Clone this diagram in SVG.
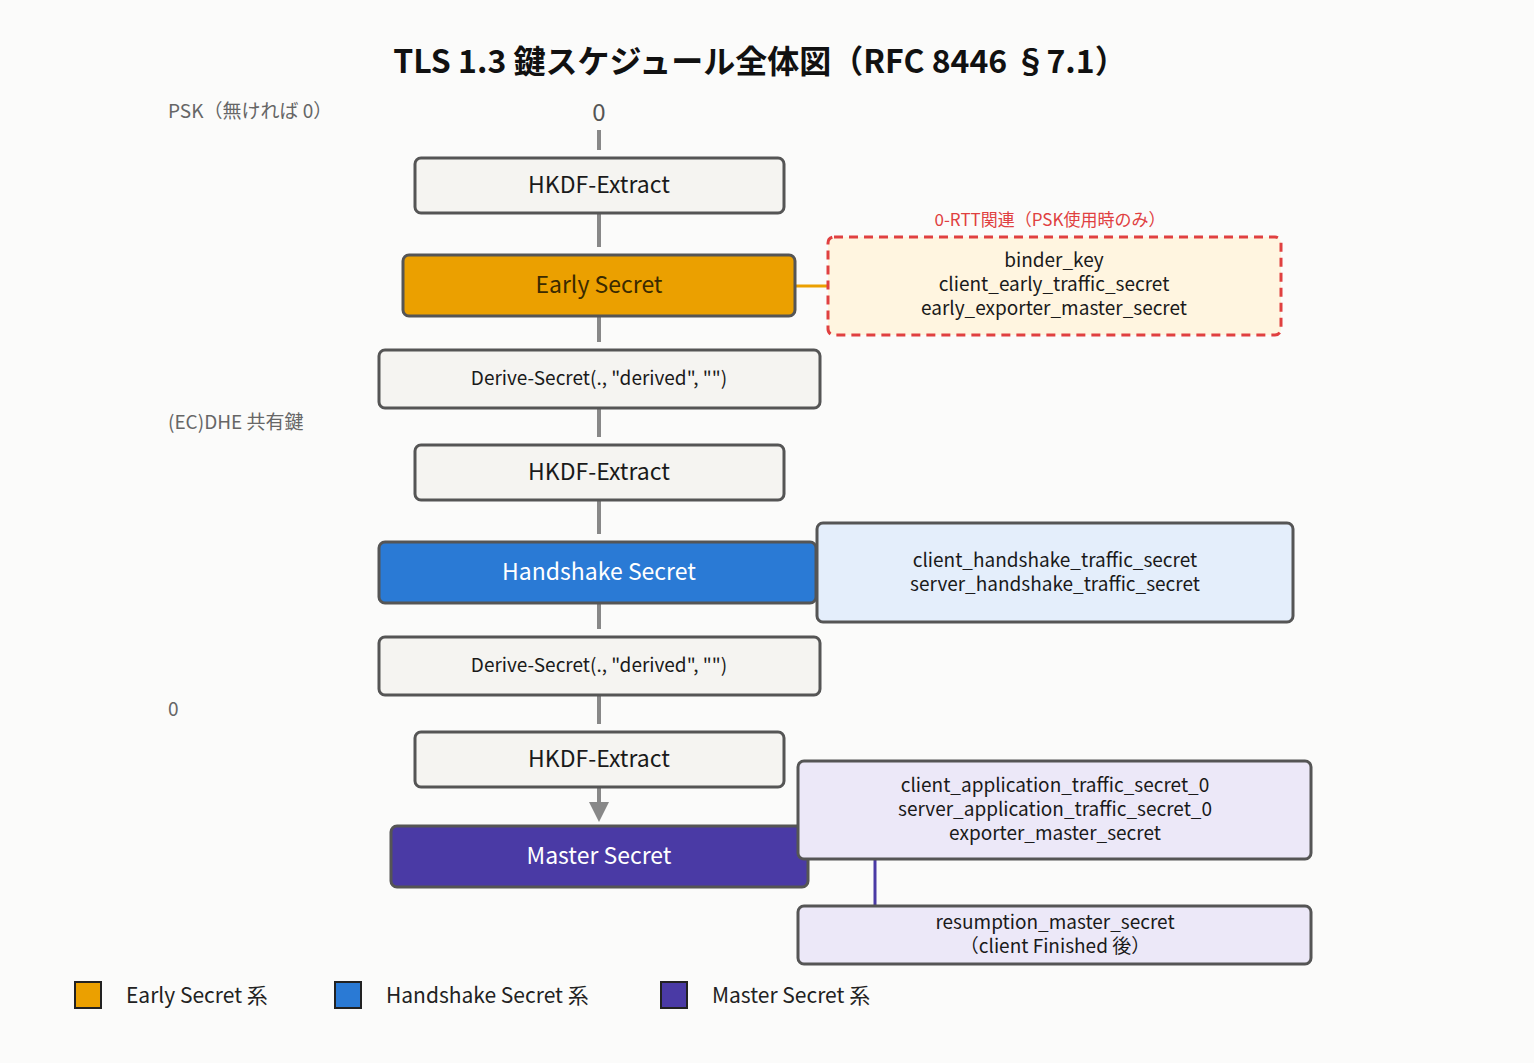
<svg xmlns="http://www.w3.org/2000/svg" width="1534" height="1063" viewBox="0 0 1534 1063">
<style>
text{font-family:"Noto Sans CJK JP","Noto Sans",sans-serif;text-anchor:middle}
.n{stroke:#555;stroke-width:3}
.g{fill:#F5F4F1}
.t{font-size:23px;fill:#1a1a1a}
.s{font-size:19px;fill:#1a1a1a}
.side{font-size:19px;fill:#666;text-anchor:start}
.c{stroke:#888;stroke-width:4;fill:none}
.lg{font-size:21px;fill:#222;text-anchor:start}
</style>
<defs><marker id="a" markerWidth="5" markerHeight="5" refX="4" refY="2.5" orient="auto" markerUnits="strokeWidth"><path d="M0,0L5,2.5L0,5z" fill="#888"/></marker></defs>
<rect width="1534" height="1063" fill="#FBFBFA"/>
<text x="760" y="73" style="font-size:32px;font-weight:bold;fill:#111">TLS 1.3 鍵スケジュール全体図（RFC 8446 §7.1）</text>
<text x="168" y="118" class="side">PSK（無ければ 0）</text>
<text x="599" y="121" style="font-size:24px;fill:#555">0</text>
<text x="168" y="429" class="side">(EC)DHE 共有鍵</text>
<text x="168" y="716" class="side">0</text>
<g id="connectors">
<path class="c" d="M599 130V150M599 213V247M599 316V342M599 408V437M599 500V534M599 603V629M599 695V724M599 787V818" marker-end="url(#a)"/>
<path d="M795 286H828" stroke="#EBA000" stroke-width="3"/>
<path d="M875 859V906" stroke="#4A3AA5" stroke-width="3"/>
</g>
<g id="hkdf1"><rect x="415" y="158" width="369" height="55" rx="6" class="n g"/><text x="599" y="193" class="t">HKDF-Extract</text></g>
<g id="early"><rect x="403" y="255" width="392" height="61" rx="6" class="n" fill="#EBA000"/><text x="599" y="293" class="t" style="fill:#3a2a00">Early Secret</text></g>
<g id="derive1"><rect x="379" y="350" width="441" height="58" rx="6" class="n g"/><text x="599" y="385" class="s">Derive-Secret(., "derived", "")</text></g>
<g id="hkdf2"><rect x="415" y="445" width="369" height="55" rx="6" class="n g"/><text x="599" y="480" class="t">HKDF-Extract</text></g>
<g id="handshake"><rect x="379" y="542" width="437" height="61" rx="6" class="n" fill="#2A7AD5"/><text x="599" y="580" class="t" style="fill:#fff">Handshake Secret</text></g>
<g id="derive2"><rect x="379" y="637" width="441" height="58" rx="6" class="n g"/><text x="599" y="672" class="s">Derive-Secret(., "derived", "")</text></g>
<g id="hkdf3"><rect x="415" y="732" width="369" height="55" rx="6" class="n g"/><text x="599" y="767" class="t">HKDF-Extract</text></g>
<g id="master"><rect x="391" y="826" width="417" height="61" rx="6" class="n" fill="#4A3AA5"/><text x="599" y="864" class="t" style="fill:#fff">Master Secret</text></g>
<g id="early-derived">
<text x="1050" y="226" style="font-size:17px;fill:#E04040">0-RTT関連（PSK使用時のみ）</text>
<rect x="828" y="237" width="453" height="98" rx="6" fill="#FFF5E0" stroke="#E04040" stroke-width="3" stroke-dasharray="9,6"/>
<text x="1054" y="267" class="s">binder_key</text><text x="1054" y="291" class="s">client_early_traffic_secret</text><text x="1054" y="315" class="s">early_exporter_master_secret</text></g>
<g id="hs-derived"><rect x="817" y="523" width="476" height="99" rx="6" class="n" fill="#E4EEFB"/>
<text x="1055" y="567" class="s">client_handshake_traffic_secret</text><text x="1055" y="591" class="s">server_handshake_traffic_secret</text></g>
<g id="app-derived"><rect x="798" y="761" width="513" height="98" rx="6" class="n" fill="#ECE8F8"/>
<text x="1055" y="792" class="s">client_application_traffic_secret_0</text><text x="1055" y="816" class="s">server_application_traffic_secret_0</text><text x="1055" y="840" class="s">exporter_master_secret</text></g>
<g id="resumption"><rect x="798" y="906" width="513" height="58" rx="6" class="n" fill="#ECE8F8"/>
<text x="1055" y="929" class="s">resumption_master_secret</text><text x="1055" y="953" class="s">（client Finished 後）</text></g>
<g id="legend">
<rect x="75" y="982" width="26" height="26" fill="#EBA000" stroke="#222" stroke-width="2"/><text x="126" y="1003" class="lg">Early Secret 系</text>
<rect x="335" y="982" width="26" height="26" fill="#2A7AD5" stroke="#222" stroke-width="2"/><text x="386" y="1003" class="lg">Handshake Secret 系</text>
<rect x="661" y="982" width="26" height="26" fill="#4A3AA5" stroke="#222" stroke-width="2"/><text x="712" y="1003" class="lg">Master Secret 系</text>
</g>
</svg>
